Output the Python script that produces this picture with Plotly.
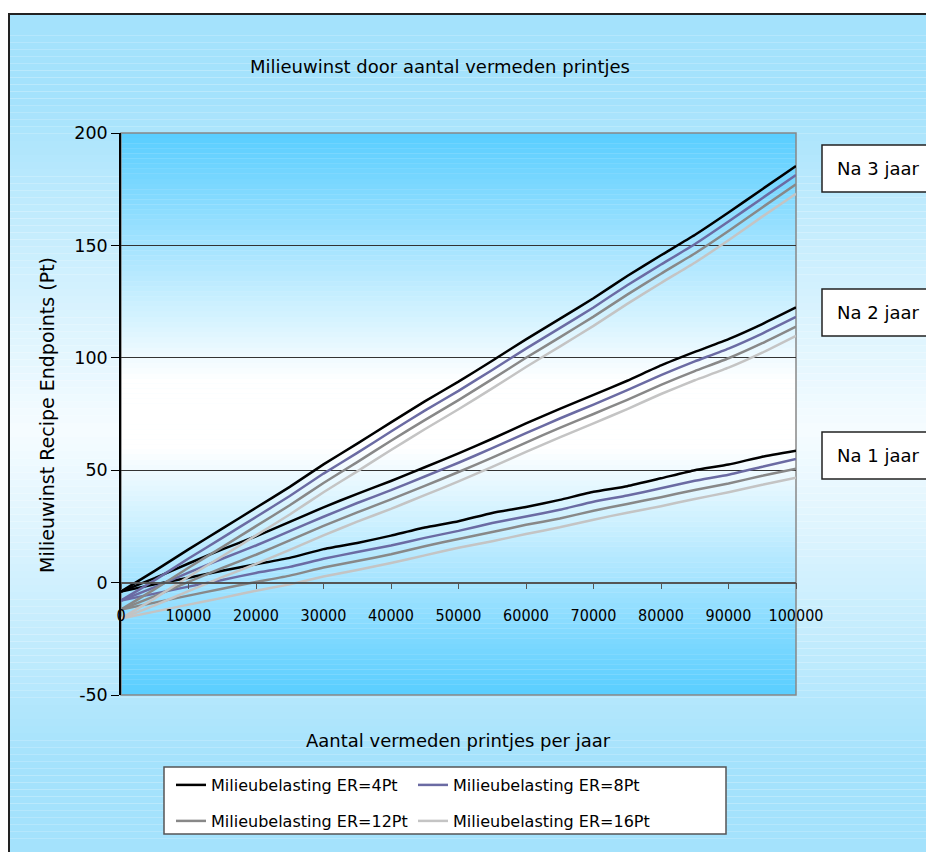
import plotly.graph_objects as go

# ---------------------------------------------------------------- data
aantal_prints = [0, 5000, 10000, 15000, 20000, 25000, 30000, 35000, 40000, 45000, 50000,
                 55000, 60000, 65000, 70000, 75000, 80000, 85000, 90000, 95000, 100000]

# Milieuwinst (Pt) na 1 jaar, per milieubelasting van de eigen printer (ER)
jaar1_er4 = [-4.0, -0.8, 2.2, 5.3, 8.2, 11.0, 14.9, 17.6, 20.9, 24.5, 27.3,
             31.0, 33.6, 36.8, 40.4, 42.9, 46.4, 50.0, 52.5, 56.0, 58.7]
jaar1_er8 = [-8.0, -4.9, -1.8, 1.2, 4.3, 7.0, 10.6, 13.6, 16.5, 19.9, 23.0,
             26.5, 29.4, 32.4, 36.0, 38.7, 42.0, 45.3, 48.0, 51.5, 55.0]
jaar1_er12 = [-12.0, -8.9, -5.8, -2.7, 0.3, 3.1, 6.7, 9.6, 12.6, 16.2, 19.4,
              22.5, 25.7, 28.5, 32.0, 35.0, 38.0, 41.2, 44.1, 47.5, 50.7]
jaar1_er16 = [-16.0, -12.9, -9.8, -6.8, -3.6, -0.8, 2.7, 5.6, 8.7, 12.1, 15.5,
              18.4, 21.6, 24.6, 28.0, 31.1, 34.0, 37.2, 40.2, 43.5, 46.7]

# na 2 jaar
jaar2_er4 = [-4.0, 2.0, 8.5, 14.8, 20.6, 27.0, 33.5, 39.5, 45.2, 51.3, 57.5,
             64.0, 70.8, 77.3, 83.5, 89.8, 96.6, 102.6, 108.3, 115.0, 122.4]
jaar2_er8 = [-8.0, -2.0, 4.4, 10.6, 16.5, 22.9, 29.3, 35.4, 41.1, 47.2, 53.3,
             59.8, 66.5, 73.0, 79.2, 85.6, 92.3, 98.4, 104.1, 110.8, 118.2]
jaar2_er12 = [-12.0, -6.0, 0.3, 6.5, 12.4, 18.8, 25.2, 31.2, 37.0, 43.0, 49.2,
              55.6, 62.3, 68.8, 75.0, 81.3, 88.0, 94.1, 99.8, 106.5, 113.9]
jaar2_er16 = [-16.0, -10.1, -3.8, 2.4, 8.3, 14.6, 21.0, 27.1, 32.8, 38.9, 45.0,
              51.5, 58.2, 64.6, 70.8, 77.2, 83.9, 90.0, 95.6, 102.3, 109.8]

# na 3 jaar
jaar3_er4 = [-4.0, 5.2, 14.8, 24.0, 33.3, 42.6, 52.6, 61.8, 71.3, 80.6, 89.4,
             98.7, 108.2, 117.3, 126.5, 136.4, 145.6, 154.6, 164.6, 175.0, 185.3]
jaar3_er8 = [-8.0, 1.1, 10.7, 19.9, 29.2, 38.5, 48.5, 57.7, 67.2, 76.5, 85.3,
             94.6, 104.1, 113.2, 122.4, 132.3, 141.5, 150.5, 160.6, 171.0, 181.3]
jaar3_er12 = [-12.0, -2.9, 6.6, 15.8, 25.1, 34.4, 44.3, 53.6, 63.1, 72.3, 81.2,
              90.5, 100.0, 109.1, 118.3, 128.1, 137.4, 146.4, 156.4, 166.9, 177.2]
jaar3_er16 = [-16.0, -7.0, 2.6, 11.7, 21.0, 30.3, 40.2, 49.5, 59.0, 68.2, 77.1,
              86.4, 95.9, 105.0, 114.2, 124.0, 133.3, 142.3, 152.3, 162.8, 173.0]

serie_namen = ["Milieubelasting ER=4Pt", "Milieubelasting ER=8Pt",
               "Milieubelasting ER=12Pt", "Milieubelasting ER=16Pt"]
serie_kleuren = ["#000000", "#6B6BA3", "#888888", "#C4C4C4"]
jaar_labels = ["Na 1 jaar", "Na 2 jaar", "Na 3 jaar"]

y_ticks = [-50, 0, 50, 100, 150, 200]
y_ticklabels = ["-50", "0", "50", "100", "150", "200"]
x_ticks = [0, 10000, 20000, 30000, 40000, 50000, 60000, 70000, 80000, 90000, 100000]

# ---------------------------------------------------------------- layout helpers
W, H = 926, 852
L, R, T, B = 121, 130, 133, 157
PW, PH = W - L - R, H - T - B
FONT = "DejaVu Sans, Verdana, sans-serif"
FONT_NARROW = "DejaVu Sans Condensed, Liberation Sans Narrow, DejaVu Sans, sans-serif"


def px(xpix):
    return (xpix - L) / PW


def py(ypix):
    return (H - B - ypix) / PH


def mix(c1, c2, f):
    return "rgb({},{},{})".format(*[round(a + (b - a) * f) for a, b in zip(c1, c2)])


shapes = []

# paper background: light blue, whiter towards the middle
n = 120
top, bot, mid = 14, 860, 430
for i in range(n):
    y0 = top + (bot - top) * i / n
    y1 = top + (bot - top) * (i + 1) / n
    t = abs((y0 + y1) / 2 - mid) / (mid - top)
    f = min(1.0, t / 0.8)
    shapes.append(dict(type="rect", xref="paper", yref="paper", layer="below",
                       x0=px(9), x1=px(W + 10), y0=py(y1), y1=py(y0),
                       line=dict(width=0),
                       fillcolor=mix((246, 252, 255), (164, 226, 252), f)))

# plot area: saturated blue at top and bottom, white in the middle
n = 110
pmid = T + PH / 2
for i in range(n):
    y0 = T + PH * i / n
    y1 = T + PH * (i + 1) / n
    t = abs((y0 + y1) / 2 - pmid) / (PH / 2)
    f = max(0.0, min(1.0, (t - 0.12) / 0.88))
    shapes.append(dict(type="rect", xref="paper", yref="paper", layer="below",
                       x0=0, x1=1, y0=py(y1), y1=py(y0),
                       line=dict(width=0),
                       fillcolor=mix((255, 255, 255), (88, 205, 255), f)))

# plot border
shapes.append(dict(type="rect", xref="paper", yref="paper", layer="below",
                   x0=0, x1=1, y0=0, y1=1, line=dict(color="#888888", width=1.5)))

# outer frame
shapes.append(dict(type="rect", xref="paper", yref="paper", layer="above",
                   x0=px(9), x1=px(W + 20), y0=py(H + 20), y1=py(14),
                   line=dict(color="#222222", width=2)))

# legend box
shapes.append(dict(type="rect", xref="paper", yref="paper", layer="below",
                   x0=px(164), x1=px(726), y0=py(834), y1=py(767),
                   fillcolor="white", line=dict(color="#555555", width=1.5)))

annotations = []
# year labels in boxes to the right of the plot
for label, (yt, yb) in zip(jaar_labels, [(432, 479), (289, 336), (145, 192)]):
    shapes.append(dict(type="rect", xref="paper", yref="paper", layer="above",
                       x0=px(822), x1=px(W + 40), y0=py(yb), y1=py(yt),
                       fillcolor="white", line=dict(color="#222222", width=1.5)))
    annotations.append(dict(text=label, xref="paper", yref="paper",
                            x=px(835), y=py((yt + yb) / 2), xanchor="left", yanchor="middle",
                            showarrow=False, font=dict(size=18, color="black", family=FONT)))

# axis titles
annotations.append(dict(text="Milieuwinst Recipe Endpoints (Pt)", xref="paper", yref="paper",
                        x=px(47), y=py(415), textangle=-90, showarrow=False,
                        xanchor="center", yanchor="middle",
                        font=dict(size=19, color="black", family=FONT)))
annotations.append(dict(text="Aantal vermeden printjes per jaar", xref="paper", yref="paper",
                        x=px(458), y=py(740), showarrow=False,
                        xanchor="center", yanchor="middle",
                        font=dict(size=18, color="black", family=FONT)))

# ---------------------------------------------------------------- traces
fig = go.Figure()
groepen = [
    [jaar1_er4, jaar1_er8, jaar1_er12, jaar1_er16],
    [jaar2_er4, jaar2_er8, jaar2_er12, jaar2_er16],
    [jaar3_er4, jaar3_er8, jaar3_er12, jaar3_er16],
]
legend_ids = ["legend", "legend2", "legend3", "legend4"]
# draw lightest first so the black line is on top within each group
for j, groep in enumerate(groepen):
    for k in [3, 2, 1, 0]:
        fig.add_trace(go.Scatter(
            x=aantal_prints, y=groep[k], mode="lines",
            name=serie_namen[k], legendgroup=serie_namen[k],
            showlegend=(j == 0),
            legend=legend_ids[k],
            line=dict(color=serie_kleuren[k], width=2.5, shape="spline", smoothing=0.4),
        ))

legend_common = dict(orientation="h", xref="paper", yref="paper", xanchor="left", yanchor="middle",
                     bgcolor="rgba(0,0,0,0)", borderwidth=0,
                     font=dict(size=16, color="black", family=FONT))
# legend entries in a 2 x 2 grid inside the box
legend_pos = [(171, 785), (413, 785), (171, 821), (413, 821)]
legend_layout = {lid: dict(x=px(lx), y=py(ly), **legend_common)
                 for lid, (lx, ly) in zip(legend_ids, legend_pos)}

fig.update_layout(
    width=W, height=H, autosize=False,
    margin=dict(l=L, r=R, t=T, b=B, pad=0),
    paper_bgcolor="white", plot_bgcolor="rgba(0,0,0,0)",
    font=dict(family=FONT, size=18, color="black"),
    title=dict(text="Milieuwinst door aantal vermeden printjes", x=px(440), xref="paper",
               xanchor="center", y=1 - 67 / H, yref="container", yanchor="middle",
               font=dict(size=18, color="black", family=FONT)),
    showlegend=True,
    xaxis=dict(range=[0, 100000], tickvals=x_ticks, ticktext=[str(v) for v in x_ticks],
               anchor="free", position=0.2, showline=True, linecolor="#555555", linewidth=1.5,
               ticks="outside", ticklen=6, tickcolor="#555555", tickwidth=1.2,
               ticklabelstandoff=12, showgrid=False, zeroline=False,
               tickfont=dict(size=16, color="black", family=FONT_NARROW)),
    yaxis=dict(range=[-50, 200], tickvals=y_ticks, ticktext=y_ticklabels,
               showline=True, linecolor="black", linewidth=1.5,
               ticks="outside", ticklen=8, tickcolor="black", showgrid=True,
               gridcolor="#333333", gridwidth=1, zeroline=False,
               tickfont=dict(size=17.5, color="black", family=FONT)),
    shapes=shapes,
    annotations=annotations,
    **legend_layout,
)

fig.write_html("out.html")
